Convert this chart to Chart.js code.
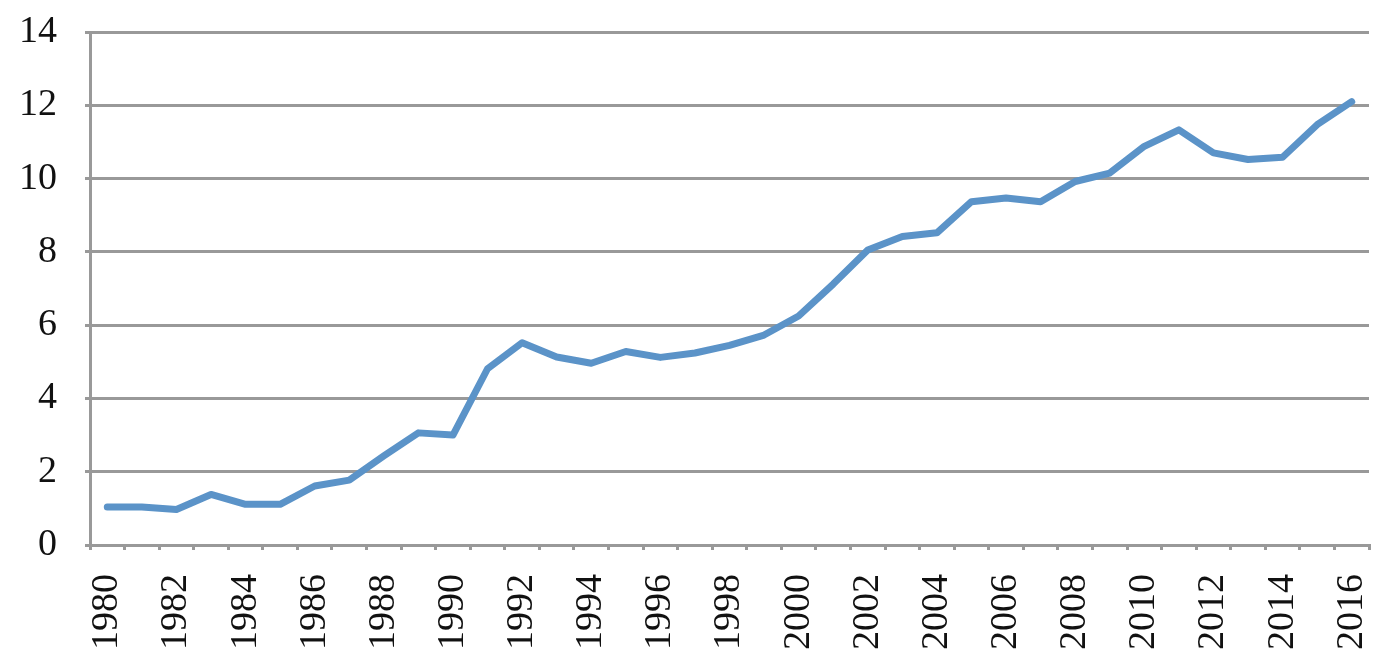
<!DOCTYPE html>
<html lang="en">
<head>
  <meta charset="utf-8">
  <title>Line chart 1980-2016</title>
  <script src="https://cdn.jsdelivr.net/npm/chart.js"></script>
  <style>
    html, body { margin: 0; padding: 0; background: #fff; }
    .chart-box { width: 1391px; height: 671px; }
  </style>
</head>
<body>
  <div class="chart-box">
    <canvas id="trend-chart"></canvas>
  </div>
  <script>
    const years = ['1980', '1981', '1982', '1983', '1984', '1985', '1986', '1987', '1988', '1989',
      '1990', '1991', '1992', '1993', '1994', '1995', '1996', '1997', '1998', '1999',
      '2000', '2001', '2002', '2003', '2004', '2005', '2006', '2007', '2008', '2009',
      '2010', '2011', '2012', '2013', '2014', '2015', '2016'];
    const values = [1.04, 1.04, 0.97, 1.38, 1.11, 1.11, 1.61, 1.77, 2.43, 3.06,
      3.0, 4.81, 5.52, 5.13, 4.96, 5.28, 5.12, 5.24, 5.45, 5.73,
      6.25, 7.12, 8.05, 8.42, 8.52, 9.37, 9.47, 9.37, 9.92, 10.15,
      10.88, 11.33, 10.7, 10.52, 10.58, 11.47, 12.1];
    const yTicks = [0, 2, 4, 6, 8, 10, 12, 14];

    const grey = '#999999';
    const font = { family: "'Liberation Serif', serif", size: 38 };

    new Chart(document.getElementById('trend-chart'), {
      type: 'line',
      data: {
        labels: years,
        datasets: [{
          data: values,
          borderColor: '#5B93C8',
          borderWidth: 7,
          borderCapStyle: 'round',
          borderJoinStyle: 'round',
          pointRadius: 0,
          tension: 0,
          fill: false
        }]
      },
      options: {
        responsive: true,
        maintainAspectRatio: false,
        animation: false,
        layout: { padding: { top: 32, right: 22, bottom: 0, left: 0 } },
        plugins: { legend: { display: false }, tooltip: { enabled: false } },
        scales: {
          x: {
            offset: true,
            grid: { offset: true, drawOnChartArea: false, color: grey, lineWidth: 3, tickLength: 5 },
            border: { color: grey, width: 3 },
            ticks: {
              autoSkip: false,
              minRotation: 90,
              maxRotation: 90,
              padding: 24,
              color: '#111',
              font: font,
              callback: function (v, i) { return i % 2 === 0 ? years[i] : ''; }
            },
            afterFit: function (s) { s.height = 126; s.paddingLeft = 0; s.paddingRight = 0; }
          },
          y: {
            min: 0,
            max: 14,
            afterBuildTicks: function (axis) { axis.ticks = yTicks.map(v => ({ value: v })); },
            grid: { color: grey, lineWidth: 3, tickLength: 5 },
            border: { color: grey, width: 3 },
            ticks: { padding: 28, color: '#111', font: font },
            afterFit: function (s) { s.width = 90; s.paddingTop = 0; s.paddingBottom = 0; }
          }
        }
      }
    });
  </script>
</body>
</html>
